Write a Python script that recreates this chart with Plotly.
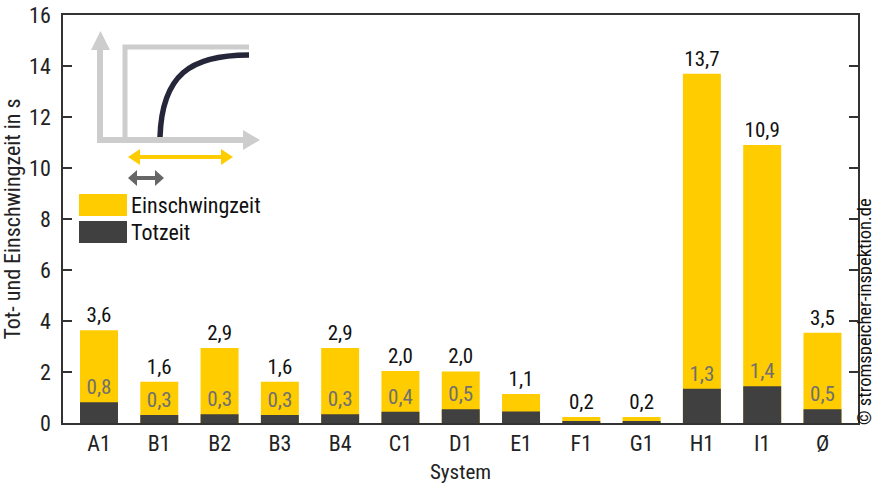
import plotly.graph_objects as go

# --- data -------------------------------------------------------------------
systems = ["A1", "B1", "B2", "B3", "B4", "C1", "D1", "E1", "F1", "G1", "H1", "I1", "Ø"]
einschwingzeit = [3.64, 1.62, 2.94, 1.62, 2.94, 2.04, 2.02, 1.14, 0.24, 0.24, 13.7, 10.9, 3.54]
totzeit = [0.81, 0.31, 0.34, 0.31, 0.34, 0.44, 0.54, 0.45, 0.08, 0.08, 1.34, 1.44, 0.54]
totzeit_label_shown = [True, True, True, True, True, True, True, False, False, False, True, True, True]
y_ticks = [0, 2, 4, 6, 8, 10, 12, 14, 16]

# --- style ------------------------------------------------------------------
FONT = "Roboto Condensed, Liberation Sans Narrow, DejaVu Sans Condensed, Roboto, sans-serif"
YELLOW = "#FFCC00"
DARK = "#404040"
ICON_GRAY = "#CDCDCD"
ARROW_GRAY = "#666666"
W, H = 872, 484
L, R, T, B = 63, 14, 15, 61
PW, PH = W - L - R, H - T - B
BAR_WIDTH = 0.63


def px(x):
    return (x - L) / PW


def py(y):
    return (H - B - y) / PH


def fmt(v):
    return f"{v:.1f}".replace(".", ",")


totzeit_text = [fmt(v) if s else "" for v, s in zip(totzeit, totzeit_label_shown)]

fig = go.Figure()
fig.add_trace(go.Bar(
    x=systems, y=einschwingzeit, name="Einschwingzeit", width=BAR_WIDTH,
    marker=dict(color=YELLOW, line=dict(width=0)),
    texttemplate="%{y:.1f}", textposition="outside",
    textfont=dict(family=FONT, size=21, color="#111111"),
    constraintext="none", cliponaxis=False,
))
fig.add_trace(go.Bar(
    x=systems, y=totzeit, name="Totzeit", width=BAR_WIDTH,
    marker=dict(color=DARK, line=dict(width=0)),
    text=totzeit_text, textposition="outside",
    textfont=dict(family=FONT, size=21, color="#707070"),
    constraintext="none", cliponaxis=False,
))

shapes = []


def line(x0, y0, x1, y1, color, width):
    shapes.append(dict(type="line", xref="paper", yref="paper",
                       x0=px(x0), y0=py(y0), x1=px(x1), y1=py(y1),
                       line=dict(color=color, width=width), layer="above"))


def poly(points, color):
    d = "M " + " L ".join(f"{px(a):.5f},{py(b):.5f}" for a, b in points) + " Z"
    shapes.append(dict(type="path", xref="paper", yref="paper", path=d,
                       fillcolor=color, line=dict(width=0), layer="above"))


# step-response icon: axes
line(100, 143, 100, 48, ICON_GRAY, 6)
poly([(91, 50), (110, 50), (100.5, 31)], ICON_GRAY)
line(97, 140, 245, 140, ICON_GRAY, 6)
poly([(243, 130), (243, 150), (260, 140)], ICON_GRAY)
# input step
shapes.append(dict(type="path", xref="paper", yref="paper",
                   path=f"M {px(125)},{py(140)} L {px(125)},{py(47)} L {px(249)},{py(47)}",
                   line=dict(color=ICON_GRAY, width=5), layer="above"))
# system response
shapes.append(dict(type="path", xref="paper", yref="paper",
                   path=(f"M {px(160)},{py(137)} C {px(162)},{py(75)} "
                         f"{px(190)},{py(55)} {px(249)},{py(55)}"),
                   line=dict(color="#26263A", width=5.5), layer="above"))
# settling-time arrow
line(138, 157, 223, 157, YELLOW, 4)
poly([(128, 157), (140, 149), (140, 165)], YELLOW)
poly([(233, 157), (221, 149), (221, 165)], YELLOW)
# dead-time arrow
line(135, 178, 157, 178, ARROW_GRAY, 4)
poly([(128, 178), (137, 170), (137, 186)], ARROW_GRAY)
poly([(164, 178), (155, 170), (155, 186)], ARROW_GRAY)

# legend swatches
shapes.append(dict(type="rect", xref="paper", yref="paper",
                   x0=px(79), x1=px(127), y0=py(216), y1=py(194),
                   fillcolor=YELLOW, line=dict(width=0), layer="above"))
shapes.append(dict(type="rect", xref="paper", yref="paper",
                   x0=px(79), x1=px(127), y0=py(243), y1=py(221),
                   fillcolor=DARK, line=dict(width=0), layer="above"))

annotations = [
    dict(text="Einschwingzeit", x=px(129), y=py(205), xref="paper", yref="paper",
         xanchor="left", yanchor="middle", showarrow=False,
         font=dict(family=FONT, size=22, color="#111111")),
    dict(text="Totzeit", x=px(129), y=py(232), xref="paper", yref="paper",
         xanchor="left", yanchor="middle", showarrow=False,
         font=dict(family=FONT, size=22, color="#111111")),
    dict(text="© stromspeicher-inspektion.de", x=px(865), y=py(312),
         xref="paper", yref="paper", xanchor="center", yanchor="middle",
         textangle=-90, showarrow=False,
         font=dict(family=FONT, size=18.5, color="#111111")),
]

fig.update_layout(
    width=W, height=H, autosize=False,
    margin=dict(l=L, r=R, t=T, b=B),
    barmode="overlay",
    separators=",.",
    showlegend=False,
    plot_bgcolor="white", paper_bgcolor="white",
    font=dict(family=FONT, color="#222222"),
    shapes=shapes, annotations=annotations,
    xaxis=dict(
        range=[-0.597, 12.589],
        showline=True, linecolor="#333333", linewidth=1.5, mirror=True,
        ticks="", showgrid=False, automargin=False,
        tickfont=dict(family=FONT, size=22, color="#222222"),
        title=dict(text="System", font=dict(family=FONT, size=21, color="#222222")),
    ),
    yaxis=dict(
        range=[0, 16], tickvals=y_ticks, automargin=False,
        showline=True, linecolor="#333333", linewidth=1.5, mirror="ticks",
        ticks="inside", ticklen=9, tickcolor="#333333", tickwidth=1.5,
        showgrid=False, zeroline=False, ticklabelstandoff=6,
        tickfont=dict(family=FONT, size=22, color="#222222"),
        title=dict(text="Tot- und Einschwingzeit in s",
                   font=dict(family=FONT, size=22, color="#222222")),
    ),
)

fig.write_html("out.html")
